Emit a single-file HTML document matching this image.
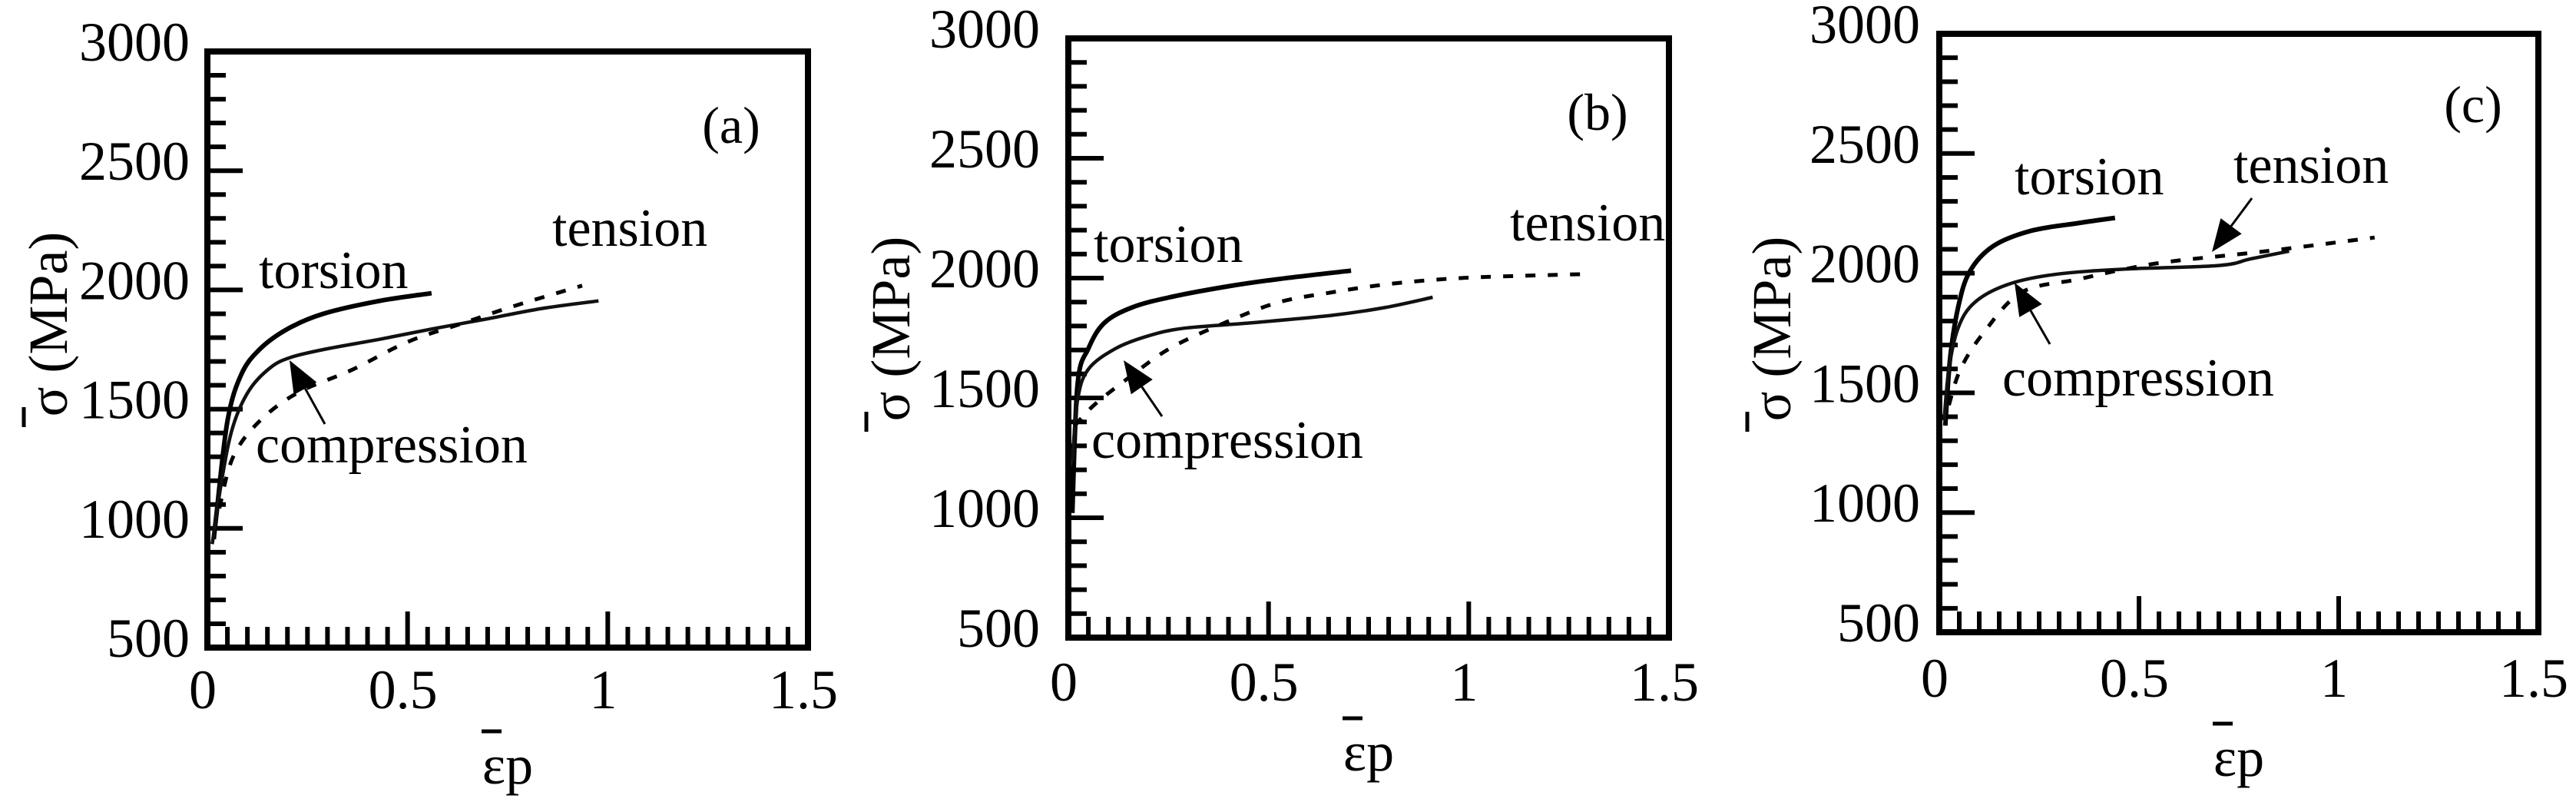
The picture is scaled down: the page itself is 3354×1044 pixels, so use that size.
<!DOCTYPE html>
<html><head><meta charset="utf-8"><style>
html,body{margin:0;padding:0;background:#fff;}
svg{display:block;font-family:"Liberation Serif",serif;}
</style></head><body>
<svg id="fig" width="3354" height="1044" viewBox="0 0 3354 1044" xmlns="http://www.w3.org/2000/svg"></svg>
<script>
// ---- data ----
const xTicks = ["0","0.5","1","1.5"];
const yTicks = ["500","1000","1500","2000","2500","3000"];
const panelIds = ["a","b","c"];
// panel a
const aTorsionX = [0.016,0.023,0.05,0.084,0.13,0.2,0.29,0.43,0.56];
const aTorsionY = [955,1063,1449,1643,1750,1836,1900,1954,1986];
const aCompX = [0.012,0.037,0.064,0.104,0.158,0.21,0.29,0.43,0.56,0.70,0.835,0.977];
const aCompY = [934,1213,1428,1578,1675,1718,1750,1793,1836,1879,1922,1954];
const aTensX = [0.03,0.064,0.13,0.226,0.36,0.5,0.632,0.767,0.936];
const aTensY = [1084,1299,1449,1569,1664,1782,1857,1933,2018];
// panel b
const bTorsionX = [0.01,0.023,0.05,0.09,0.158,0.253,0.39,0.52,0.706];
const bTorsionY = [1020,1556,1706,1813,1877,1920,1963,1995,2031];
const bCompX = [0.01,0.023,0.05,0.118,0.2,0.29,0.456,0.66,0.79,0.91];
const bCompY = [1234,1491,1620,1706,1759,1791,1813,1845,1877,1920];
const bTensX = [0.016,0.064,0.145,0.253,0.39,0.523,0.66,0.79,0.93,1.065,1.295];
const bTensY = [1384,1470,1577,1706,1813,1898,1941,1973,1995,2006,2017];
// panel c
const cTorsionX = [0.015,0.027,0.047,0.076,0.135,0.23,0.347,0.44];
const cTorsionY = [1363,1642,1856,2006,2113,2177,2209,2231];
const cCompX = [0.012,0.024,0.047,0.088,0.17,0.29,0.465,0.7,0.78,0.876];
const cCompY = [1385,1599,1770,1877,1952,1995,2017,2032,2060,2092];
const cTensX = [0.024,0.053,0.11,0.206,0.347,0.465,0.58,0.82,1.09];
const cTensY = [1449,1599,1749,1920,1974,2017,2049,2092,2149];

const NS="http://www.w3.org/2000/svg";
const svg=document.getElementById('fig');
function mk(tag,attrs,parent){const e=document.createElementNS(NS,tag);for(const k in attrs)e.setAttribute(k,attrs[k]);(parent||svg).appendChild(e);return e;}

const panels=[
 {id:"a",L:270,T:67,W:782,H:776,tx:[aTorsionX,aTorsionY],cx:[aCompX,aCompY],ex:[aTensX,aTensY],
  ylabR:247,xlabY:922,epsY:1020,titleX:63,titleY:422,pl:[952,186],
  tors:[337,375],tens:[719,320],comp:[333,602],arrows:[[423,552,377,469]]},
 {id:"b",L:1391,T:50,W:782,H:780,tx:[bTorsionX,bTorsionY],cx:[bCompX,bCompY],ex:[bTensX,bTensY],
  ylabR:1354,xlabY:912,epsY:1003,titleX:1160,titleY:428,pl:[2080,169],
  tors:[1424,341],tens:[1966,313],comp:[1421,596],arrows:[[1513,542,1463,469]]},
 {id:"c",L:2525,T:44,W:780,H:779,tx:[cTorsionX,cTorsionY],cx:[cCompX,cCompY],ex:[cTensX,cTensY],
  ylabR:2500,xlabY:907,epsY:1010,titleX:2307,titleY:428,pl:[3220,159],
  tors:[2623,253],tens:[2908,238],comp:[2607,515],arrows:[[2669,448,2623,368],[2932,258,2880,328]]}
];

function smooth(pts){
  let d='M'+pts[0][0].toFixed(1)+' '+pts[0][1].toFixed(1);
  for(let i=0;i<pts.length-1;i++){
    const p0=pts[i-1]||pts[i],p1=pts[i],p2=pts[i+1],p3=pts[i+2]||p2;
    const c1=[p1[0]+(p2[0]-p0[0])/6,p1[1]+(p2[1]-p0[1])/6];
    const c2=[p2[0]-(p3[0]-p1[0])/6,p2[1]-(p3[1]-p1[1])/6];
    d+=` C${c1[0].toFixed(1)} ${c1[1].toFixed(1)} ${c2[0].toFixed(1)} ${c2[1].toFixed(1)} ${p2[0].toFixed(1)} ${p2[1].toFixed(1)}`;
  }
  return d;
}

panels.forEach(p=>{
  const g=mk('g',{});
  
  
  const X=v=>p.L+v/1.5*p.W;
  const Y=s=>p.T+p.H-(s-500)/2500*p.H;
  for(let i=1;i<25;i++){const s=500+i*100;const len=(s%500===0)?46:24;
    const t=mk('line',{x1:p.L,x2:p.L+len,y1:Y(s),y2:Y(s),stroke:'#000','stroke-width':6},g);
    
    }
  for(let i=1;i<30;i++){const v=i*0.05;const len=(i%10===0)?47:27;
    const t=mk('line',{x1:X(v),x2:X(v),y1:p.T+p.H,y2:p.T+p.H-len,stroke:'#000','stroke-width':6},g);
    
    }
  const box=mk('rect',{x:p.L,y:p.T,width:p.W,height:p.H,fill:'none',stroke:'#000','stroke-width':8},g);
  
  
  yTicks.forEach(t=>{const e=mk('text',{x:p.ylabR,y:Y(+t)+12,'text-anchor':'end','font-size':72},g);e.textContent=t;
    
    });
  xTicks.forEach(t=>{const e=mk('text',{x:X(+t)-6,y:p.xlabY,'text-anchor':'middle','font-size':72},g);e.textContent=t;
    
    });
  const cx=p.L+p.W/2;
  const xt=mk('text',{x:cx,y:p.epsY,'text-anchor':'middle','font-size':72},g);xt.textContent='εp';
  
  
  const ob=mk('line',{x1:cx-34,x2:cx-8,y1:p.epsY-68,y2:p.epsY-68,stroke:'#000','stroke-width':5},g);
  
  
  const yt=mk('text',{x:0,y:0,'text-anchor':'middle','font-size':72,transform:`translate(${p.titleX+24},${p.titleY}) rotate(-90)`},g);
  yt.textContent='σ (MPa)';
  
  
  const yob=mk('line',{x1:p.titleX-32,x2:p.titleX-32,y1:p.titleY+108,y2:p.titleY+134,stroke:'#000','stroke-width':5},g);
  
  
  const pl=mk('text',{x:p.pl[0],y:p.pl[1],'text-anchor':'middle','font-size':68},g);pl.textContent='('+p.id+')';
  
  
  const pts=(xs,ys)=>xs.map((v,i)=>[X(v),Y(ys[i])]);
  const s1=mk('path',{d:smooth(pts(p.tx[0],p.tx[1])),fill:'none',stroke:'#000','stroke-width':6,'stroke-linejoin':'round'},g);
  
  
  const s2=mk('path',{d:smooth(pts(p.cx[0],p.cx[1])),fill:'none',stroke:'#111','stroke-width':4.5,'stroke-linejoin':'round'},g);
  
  
  const s3=mk('path',{d:smooth(pts(p.ex[0],p.ex[1])),fill:'none',stroke:'#000','stroke-width':5,'stroke-dasharray':'13 16'},g);
  
  
  [['torsion',p.tors,'torsion-label'],['tension',p.tens,'tension-label'],['compression',p.comp,'compression-label']].forEach(a=>{
    const e=mk('text',{x:a[1][0],y:a[1][1],'font-size':70},g);e.textContent=a[0];
    
    });
  p.arrows.forEach(a=>{
    const [x1,y1,x2,y2]=a;const dx=x2-x1,dy=y2-y1,l=Math.hypot(dx,dy),ux=dx/l,uy=dy/l;
    const bx=x2-ux*42,by=y2-uy*42;
    const ln=mk('line',{x1:x1,y1:y1,x2:bx,y2:by,stroke:'#000','stroke-width':3},g);
    
    
    const hd=mk('polygon',{points:`${x2},${y2} ${bx-uy*17},${by+ux*17} ${bx+uy*17},${by-ux*17}`,fill:'#000'},g);
    
    
  });
});
</script>
</body></html>
